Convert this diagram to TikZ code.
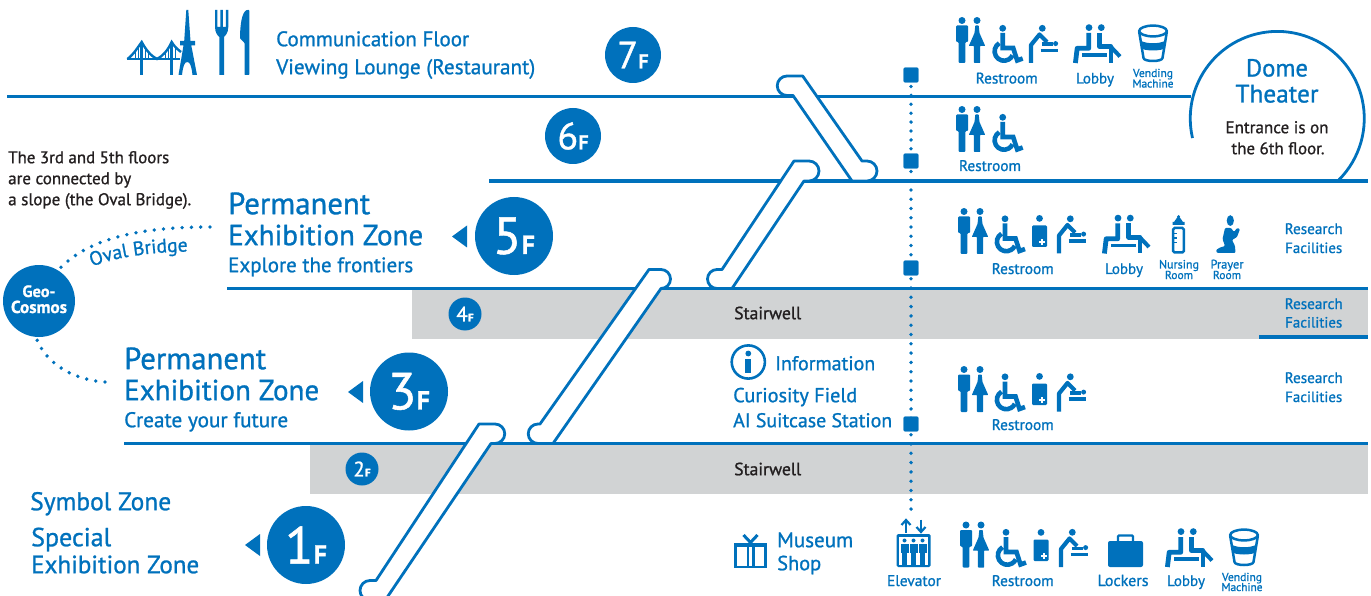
\documentclass[tikz,border=0pt]{standalone}
\usepackage{fontspec}
\usepackage{graphicx}
\setmainfont{PT Sans}[FakeBold=1]
\usetikzlibrary{decorations.text}
\definecolor{brand}{HTML}{0071BC}
\definecolor{ink}{HTML}{231F20}
\definecolor{band}{HTML}{D1D3D4}
\newcommand\fitw[2]{\resizebox{#1pt}{!}{#2}}
\newcommand\flr[3]{{\fontsize{#1}{#1}\selectfont #3\kern.3pt\fontsize{#2}{#2}\selectfont\bfseries F}}
\tikzset{
  bl/.style={text=brand,inner sep=0pt,anchor=base west,yshift=-.2pt},
  bc/.style={text=brand,inner sep=0pt,anchor=base},
  kl/.style={text=ink,inner sep=0pt,anchor=base west,yshift=-.2pt},
  kc/.style={text=ink,inner sep=0pt,anchor=base,yshift=-.2pt},
  wc/.style={text=white,inner sep=0pt,anchor=base},
  floorline/.style={draw=brand,line width=3.3pt},
  floorband/.style={fill=band,draw=none},
  ramp/.style={draw=brand,fill=white,line width=2.8pt,line join=round},
  sq/.style={fill=brand,draw=none,minimum size=14.6pt,inner sep=0pt,rounded corners=1pt},
  dots/.style={draw=brand,line width=3.8pt,line cap=round},
  bigdisc/.style={circle,fill=brand,draw=none,minimum size=78pt,inner sep=0pt,text=white},
  middisc/.style={circle,fill=brand,draw=none,minimum size=56pt,inner sep=0pt,text=white},
  smalldisc/.style={circle,fill=brand,draw=none,minimum size=33pt,inner sep=0pt,text=white},
  tri/.style={fill=brand,draw=none},
  pics/iconman/.style={code={
    \fill[brand] (6,3.5) circle[radius=3.5pt];
    \fill[brand,rounded corners=1pt] (0,8.5)--(12,8.5)--(12,25)--(9.4,25)--(9.4,46)--(2.6,46)--(2.6,25)--(0,25)--cycle;
  }},
  pics/iconwoman/.style={code={
    \fill[brand] (7.5,3.5) circle[radius=3.5pt];
    \fill[brand,rounded corners=.6pt] (5.8,8.5)--(9.2,8.5)--(10,16)--(15.7,29)--(10.6,29)--(10.6,46)--(4.4,46)--(4.4,29)--(-.7,29)--(5,16)--cycle;
  }},
  pics/iconwheel/.style={code={
    \fill[brand] (10,3.3) circle[radius=3.4pt];
    \draw[brand,line width=4.6pt] (10,8)--(10,23)--(20.5,23)--(24.5,35.5)--(30,33.5);
    \draw[brand,line width=4.6pt] (6.6,18.2) arc[start angle=120,end angle=335,radius=9.4pt];
  }},
  pics/iconchange/.style={code={
    \fill[brand] (13.3,3.3) circle[radius=3.4pt];
    \draw[brand,line width=4.2pt,line join=round] (2,38)--(2,20)--(10.5,9.5)--(18,17);
    \draw[brand,line width=3.6pt] (13,19.3)--(24,19.3);
    \fill[brand] (26.6,18.6) circle[radius=2.5pt];
    \draw[brand,line width=3.4pt] (11.5,25.6)--(29,25.6);
  }},
  pics/iconlobby/.style={code={
    \fill[brand] (16,3.6) circle[radius=3.4pt];
    \fill[brand] (28.3,3.6) circle[radius=3.4pt];
    \draw[brand,line width=4.8pt,line join=round] (2.4,39)--(4.2,24.3)--(15.7,24.3)--(15.7,9);
    \draw[brand,line width=4.8pt,line join=round] (26.7,9)--(26.7,22.7)--(38,22.7)--(38,39);
    \draw[brand,line width=4pt] (38,23)--(47,32.5);
    \draw[brand,line width=3.8pt] (9,31)--(34,31);
  }},
  pics/iconcup/.style={code={
    \fill[brand] (3,17) .. controls (10,20) and (20,20) .. (27,17) -- (25.6,25) .. controls (20,27) and (10,27) .. (4.4,25) -- cycle;
    \draw[brand,line width=2.5pt] (15,7) ellipse[x radius=13.8pt,y radius=5.4pt];
    \draw[brand,line width=2.5pt,line join=round] (1.2,8)--(5.5,34) .. controls (6,38) and (24,38) .. (24.5,34)--(28.8,8);
  }},
  pics/iconosto/.style={code={
    \fill[brand] (7.5,3.4) circle[radius=3.4pt];
    \fill[brand,rounded corners=1.2pt] (0,10.5)--(15,10.5)--(15,32)--(0,32)--cycle;
    \fill[white] (9,24) rectangle (11,30);
    \fill[white] (7,26) rectangle (13,28);
  }},
  pics/iconbottle/.style={code={
    \fill[brand] (7.5,1.6) circle[radius=1.6pt];
    \fill[brand] (6.5,2)--(8.5,2)--(12,7)--(13.5,7)--(13.5,10)--(1.5,10)--(1.5,7)--(3,7)--cycle;
    \draw[brand,line width=2.5pt,rounded corners=1.5pt] (2.2,13)--(12.8,13)--(12.8,37.5)--(2.2,37.5)--cycle;
    \draw[brand,line width=1.6pt] (2,18.5)--(6,18.5) (2,23)--(6,23) (2,27.5)--(6,27.5);
  }},
  pics/iconpray/.style={code={
    \fill[brand] (14.3,5.6) ellipse[x radius=3.6pt,y radius=5.4pt];
    \fill[brand,rounded corners=1pt] (9,13)--(15,13)--(18,17)--(21,13)--(24,14)--(21,22)--(16,25)--(19,31)--(19.5,38)--(1,38)--(0,35)--(4,32.5)--(9,31)--(6.5,24)--cycle;
  }},
  pics/iconlift/.style={code={
    \fill[brand,rounded corners=1.5pt] (0,0) rectangle (34,33);
    \fill[white] (2.5,2.5) rectangle (31.5,30.5);
    \foreach \mx in {8,17,26}{
      \fill[brand] (\mx,6.5) circle[radius=2pt];
      \fill[brand] (\mx-4,9.5) rectangle (\mx+4,19);
      \fill[brand] (\mx-2.4,19) rectangle (\mx+2.4,30.5);
    }
    \draw[brand,line width=2.2pt] (9.5,-1.5)--(9.5,-13);
    \draw[brand,line width=2.2pt] (5,-9)--(9.5,-14)--(14,-9);
    \draw[brand,line width=2.2pt] (24.5,-14.5)--(24.5,-3);
    \draw[brand,line width=2.2pt] (20,-7)--(24.5,-2)--(29,-7);
  }},
  pics/iconcase/.style={code={
    \draw[brand,line width=2.4pt,rounded corners=1pt] (10,8)--(10,1.5)--(25,1.5)--(25,8);
    \fill[brand,rounded corners=2pt] (0,7) rectangle (35,33);
  }},
  pics/icongift/.style={code={
    \draw[brand,line width=2.6pt] (1.5,11)--(1.5,33)--(31.5,33)--(31.5,11);
    \fill[brand] (0,9) rectangle (33,12.5);
    \fill[brand] (12.5,9) rectangle (14.8,34);
    \fill[brand] (18.2,9) rectangle (20.5,34);
    \draw[brand,line width=3pt] (9.5,1)--(16.5,8.5)--(23.5,1);
  }},
}
\begin{document}
\begin{tikzpicture}[x=1pt,y=-1pt]
\useasboundingbox (0,0) rectangle (1371,596);
\clip (0,0) rectangle (1371,596);

% bands
\fill[floorband] (412,289) rectangle (1368,339);
\fill[floorband] (310,444) rectangle (1368,494);

% squares
\node[sq] (lift7) at (911,75) {};
\node[sq] (lift6) at (911,161) {};
\node[sq] (lift5) at (911,268) {};
\node[sq] (lift3) at (911,424) {};
\coordinate (lift1) at (911,513);
\draw[dots,dash pattern=on 0pt off 8.9pt,dash phase=6.3pt] (lift7.center)--(lift6.center);
\draw[dots,dash pattern=on 0pt off 9.25pt,dash phase=8pt] (lift6.center)--(lift5.center);
\draw[dots,dash pattern=on 0pt off 9.3pt,dash phase=7.9pt] (lift5.center)--(lift3.center);
\draw[dots,dash pattern=on 0pt off 9.3pt,dash phase=7.9pt] (lift3.center)--(lift1);
\node[sq] at (lift7) {};
\node[sq] at (lift6) {};
\node[sq] at (lift5) {};
\node[sq] at (lift3) {};

% floor lines
\coordinate (f7a) at (7,96.5);   \coordinate (f7b) at (1191,96.5);
\coordinate (f6a) at (489,181);  \coordinate (f6b) at (1368,181);
\coordinate (f5a) at (227,288.5);\coordinate (f5b) at (1368,288.5);
\coordinate (f3a) at (124,443.5);\coordinate (f3b) at (1368,443.5);
\coordinate (f4a) at (1259,337); \coordinate (f4b) at (1368,337);
\draw[floorline] (f7a)--(f7b);
\draw[floorline] (f6a)--(f6b);
\draw[floorline] (f5a)--(f5b);
\draw[floorline] (f3a)--(f3b);
\draw[floorline,line width=4pt] (f4a)--(f4b);

% dome
\draw[brand,line width=2.8pt] (1192.5,138) arc[start angle=193,end angle=-45,radius=87pt];

% escalators
\draw[ramp] (802.7,76)--(787,76) arc[start angle=90,end angle=270,radius=9.75pt]--(793,95.5)--(852,181)--(867,181) arc[start angle=-90,end angle=90,radius=10pt]--(862,161)--cycle;
\draw[ramp] (722,269.5)--(717,269.5) arc[start angle=90,end angle=270,radius=9.5pt]--(732,288.5)--(804,181)--(809,181) arc[start angle=-90,end angle=90,radius=10pt]--(794,161)--cycle;
\draw[ramp] (540,424)--(538,424) arc[start angle=90,end angle=270,radius=9.75pt]--(553,443.5)--(661,288.5) arc[start angle=-90,end angle=90,radius=9.5pt]--(649,269.5)--cycle;
\draw[ramp] (376,580.5)--(370,580.5) arc[start angle=90,end angle=270,radius=10pt]--(385,600.5)--(491,443.5)--(495,443.5) arc[start angle=-90,end angle=90,radius=9.75pt]--(479,424)--cycle;

% floor discs
\node[middisc] (d7) at (633,55) {\flr{38}{20}{7}};
\node[middisc] (d6) at (573,136) {\flr{38}{20}{6}};
\node[bigdisc] (d5) at (514,236) {\flr{52}{26}{5}};
\node[bigdisc] (d3) at (409,391.5) {\flr{52}{26}{3}};
\node[bigdisc] (d1) at (306,545) {\flr{52}{26}{1}};
\node[smalldisc] (d4) at (465,314) {\flr{21}{11}{4}};
\node[smalldisc] (d2) at (362,469) {\flr{21}{11}{2}};
\fill[tri] (452,236.5)--(467,225.5)--(467,247.5)--cycle;
\fill[tri] (348,392)--(363,381)--(363,403)--cycle;
\fill[tri] (245,545)--(260,534)--(260,556)--cycle;

% geo-cosmos
\node[circle,fill=brand,draw=none,minimum size=72pt,inner sep=0pt] (geo) at (39,301) {};
\node[wc] (geo1) at (39,297) {\fitw{33}{\bfseries Geo-}};
\node[wc] (geo2) at (39,313) {\fitw{56}{\bfseries Cosmos}};
\coordinate (br5) at (210,227);
\coordinate (br3) at (105,382);
\draw[dots,dash pattern=on 0pt off 9.3pt] (br5) .. controls (150,227) and (90,235) .. (geo.58);
\draw[dots,dash pattern=on 0pt off 9.3pt] (br3) .. controls (75,380) and (46,365) .. (geo.-95);
\path[decorate,decoration={text along path,text align=center,text={|\color{brand}\fontsize{19.5}{19.5}\selectfont|Oval Bridge}}] (90,267.5) .. controls (115,257) and (150,252) .. (190,251.5);

% texts
\node[bl] (t1) at (276,46) {\fitw{193}{Communication Floor}};
\node[bl] (t2) at (276,74) {\fitw{259}{Viewing Lounge (Restaurant)}};
\node[kl] (t3) at (8,163) {\fitw{161}{The 3rd and 5th floors}};
\node[kl] (t4) at (8,184) {\fitw{123}{are connected by}};
\node[kl] (t5) at (8,205) {\fitw{183}{a slope (the Oval Bridge).}};
\node[bl] (t6) at (228,214) {\fitw{142}{Permanent}};
\node[bl] (t7) at (228,245) {\fitw{195}{Exhibition Zone}};
\node[bl] (t8) at (228,272) {\fitw{185}{Explore the frontiers}};
\node[bl] (t9) at (124,369) {\fitw{142}{Permanent}};
\node[bl] (t10) at (124,400) {\fitw{195}{Exhibition Zone}};
\node[bl] (t11) at (124,427) {\fitw{164}{Create your future}};
\node[bl] (t12) at (30,510) {\fitw{141}{Symbol Zone}};
\node[bl] (t13) at (31,546) {\fitw{80}{Special}};
\node[bl] (t14) at (31,573) {\fitw{168}{Exhibition Zone}};
\node[kl] (t15) at (734,319) {\fitw{67}{Stairwell}};
\node[kl] (t16) at (734,475) {\fitw{67}{Stairwell}};
\node[bl] (t17) at (775,370) {\fitw{100}{Information}};
\node[bl] (t18) at (733,402) {\fitw{124}{Curiosity Field}};
\node[bl] (t19) at (733,427) {\fitw{159}{AI Suitcase Station}};
\node[bl] (t20) at (777,547) {\fitw{76}{Museum}};
\node[bl] (t21) at (777,570) {\fitw{44}{Shop}};

\node[bc] (r7) at (1006.7,83.5) {\fitw{62}{Restroom}};
\node[bc] (l7) at (1095,83.5) {\fitw{38}{Lobby}};
\node[bc] (v7a) at (1153,77) {\fitw{40}{Vending}};
\node[bc] (v7b) at (1153,87.5) {\fitw{41}{Machine}};
\node[bc] (r6) at (990,171) {\fitw{62}{Restroom}};
\node[bc] (r5) at (1022.7,274) {\fitw{62}{Restroom}};
\node[bc] (l5) at (1124,274) {\fitw{38}{Lobby}};
\node[bc] (n5a) at (1179,268.5) {\fitw{40}{Nursing}};
\node[bc] (n5b) at (1179,279) {\fitw{28}{Room}};
\node[bc] (p5a) at (1227,268.5) {\fitw{33}{Prayer}};
\node[bc] (p5b) at (1227,279) {\fitw{28}{Room}};
\node[bc] (rf5a) at (1313.7,234) {\fitw{58}{Research}};
\node[bc] (rf5b) at (1313.7,253) {\fitw{57}{Facilities}};
\node[bc] (rf4a) at (1313.7,309) {\fitw{58}{Research}};
\node[bc] (rf4b) at (1313.7,327.5) {\fitw{57}{Facilities}};
\node[bc] (rf3a) at (1313.7,383) {\fitw{58}{Research}};
\node[bc] (rf3b) at (1313.7,402) {\fitw{57}{Facilities}};
\node[bc] (r3) at (1022.7,430) {\fitw{62}{Restroom}};
\node[bc] (el1) at (914,586) {\fitw{54}{Elevator}};
\node[bc] (r1) at (1022.7,586) {\fitw{62}{Restroom}};
\node[bc] (lk1) at (1123,586) {\fitw{51}{Lockers}};
\node[bc] (l1) at (1186,586) {\fitw{38}{Lobby}};
\node[bc] (v1a) at (1242,581) {\fitw{40}{Vending}};
\node[bc] (v1b) at (1242,591) {\fitw{41}{Machine}};
\node[bc] (dm1) at (1277,76.5) {\fitw{62}{Dome}};
\node[bc] (dm2) at (1277,102.5) {\fitw{83}{Theater}};
\node[kc] (dm3) at (1277,133) {\fitw{103}{Entrance is on}};
\node[kc] (dm4) at (1278,154) {\fitw{93}{the 6th floor.}};

% info icon
\draw[brand,line width=2.6pt] (748.3,362) circle[radius=16.6pt];
\fill[brand] (748.3,353.5) circle[radius=2.9pt];
\fill[brand] (745.4,358.5) rectangle (751.2,373);

% icon rows
\pic at (956,17) {iconman};
\pic at (969.5,17) {iconwoman};
\pic at (992.7,25) {iconwheel};
\pic at (1029,25) {iconchange};
\pic at (1073,24) {iconlobby};
\pic at (1138,24) {iconcup};

\pic at (956,106) {iconman};
\pic at (969.5,106) {iconwoman};
\pic at (992.7,114) {iconwheel};

\pic at (958,208) {iconman};
\pic at (972.5,208) {iconwoman};
\pic at (995,215.5) {iconwheel};
\pic at (1032,215) {iconosto};
\pic at (1057,215.5) {iconchange};
\pic at (1102,214.5) {iconlobby};
\pic at (1171,215) {iconbottle};
\pic at (1216,215) {iconpray};

\pic at (958,366) {iconman};
\pic at (972.5,366) {iconwoman};
\pic at (995,373.5) {iconwheel};
\pic at (1032,373) {iconosto};
\pic at (1057,373.5) {iconchange};

\pic at (734,534) {icongift};
\pic at (896.5,534) {iconlift};
\pic at (960,521.5) {iconman};
\pic at (973.5,521.5) {iconwoman};
\pic at (996,529) {iconwheel};
\pic at (1033.5,529) {iconosto};
\pic at (1059,529) {iconchange};
\pic at (1108,534) {iconcase};
\pic at (1165,528) {iconlobby};
\pic at (1229,528) {iconcup};

% bridge, tower, cutlery
\draw[brand,line width=2.6pt] (126.7,59)--(180,59);
\draw[brand,line width=3pt] (141.7,42)--(141.7,75) (171.7,42)--(171.7,75);
\draw[brand,line width=2.4pt] (127.5,59) .. controls (134,54) and (138,47) .. (141.7,42) .. controls (146,50) and (151,56) .. (157,59) .. controls (163,56) and (168,50) .. (171.7,42) .. controls (174,46) and (177,49) .. (181,52);
\draw[brand,line width=.8pt] (135,52)--(135,59) (138,48)--(138,59) (145,48)--(145,59) (148,52)--(148,59) (165,52)--(165,59) (168,48)--(168,59) (175,47)--(175,59);
\fill[brand] (186.3,10)--(188.3,10)--(190.5,41)--(195,41)--(195,45.5)--(191.3,45.5)--(197,75)--(192.5,75) .. controls (191.5,66) and (190,62) .. (187.3,62) .. controls (184.5,62) and (183,66) .. (182,75)--(178.5,75)--(183.5,45.5)--(180,45.5)--(180,41)--(184.2,41)--cycle;
\fill[brand] (215,10)--(217.3,10)--(217.3,27)--(220.4,27)--(220.4,10)--(222.8,10)--(222.8,27)--(225.9,27)--(225.9,10)--(228.3,10)--(228.3,27) .. controls (228.3,33) and (225,36) .. (224,37)--(224,75)--(219.3,75)--(219.3,37) .. controls (218,36) and (215,33) .. (215,27)--cycle;
\fill[brand,rounded corners=.6pt] (249.3,10)--(249.3,75)--(244.6,75)--(244.6,43)--(240,38.5) .. controls (240,25) and (242,12) .. (247,10)--cycle;
\end{tikzpicture}
\end{document}
